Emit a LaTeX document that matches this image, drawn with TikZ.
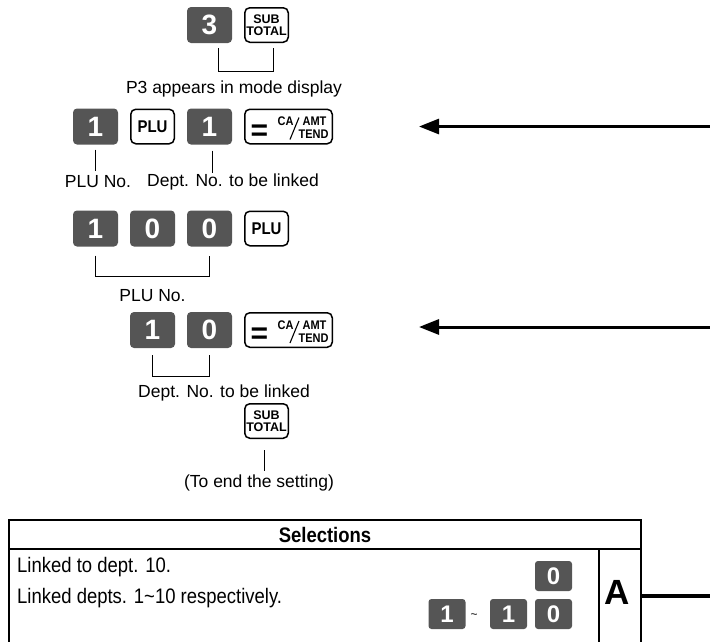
\documentclass[tikz,border=0pt]{standalone}
\usepackage{fontspec}
\setmainfont{Liberation Sans}
\newfontfamily\narrowfont[FakeStretch=0.88]{Liberation Sans}
\usetikzlibrary{arrows.meta}
\definecolor{keygray}{RGB}{85,85,85}

% key with "=" and CA/AMT over TEND
\newcommand{\amtkey}[3]{%
  \node[fnkey,minimum width=87.5pt] (#1) at (#2,#3) {};
  \node[keytext,font=\bfseries\fontsize{30}{30}\selectfont] (#1-eq) at ([xshift=-29pt,yshift=-6pt]#1.center) {=};
  \node[keytext] (#1-ca) at ([xshift=-3pt,yshift=5pt]#1.center) {CA};
  \node[keytext] (#1-amt) at ([xshift=26pt,yshift=5pt]#1.center) {AMT};
  \node[keytext] (#1-tend) at ([xshift=25pt,yshift=-8pt]#1.center) {TEND};
  \draw[line width=1.1pt] ([xshift=10.5pt,yshift=9pt]#1.center) -- ([xshift=1.5pt,yshift=-13pt]#1.center);
}

\begin{document}
\begin{tikzpicture}[x=1pt,y=-1pt,every node/.style={font=\fontsize{17.5}{20}\selectfont}]
    \tikzset{
      numkey/.style={rounded corners=4pt,fill=keygray,text=white,minimum width=45pt,minimum height=36pt,inner sep=0pt,font=\bfseries\fontsize{28}{28}\selectfont},
      fnkey/.style={draw,line width=1.5pt,rounded corners=5pt,minimum width=43.5pt,minimum height=34.5pt,inner sep=0pt,align=center,font=\bfseries\fontsize{12.5}{11.5}\selectfont},
      plukey/.style={fnkey,font=\narrowfont\bfseries\fontsize{17}{17}\selectfont},
      keytext/.style={inner sep=0pt,font=\narrowfont\bfseries\fontsize{12.5}{12.5}\selectfont},
      tabkey/.style={rounded corners=3pt,fill=keygray,text=white,minimum width=37pt,minimum height=30pt,inner sep=0pt,font=\bfseries\fontsize{24}{24}\selectfont},
      tabtext/.style={anchor=west,inner sep=0pt,font=\narrowfont\fontsize{21}{24}\selectfont},
      line/.style={line width=1pt},
      frame/.style={line width=2pt},
      arrow/.style={-{Triangle[length=20pt,width=15pt]},line width=3pt}
    }
    \useasboundingbox (0,0) rectangle (710,641);

    % mode
    \node[numkey] (three) at (209.5,25) {3};
    \node[fnkey] (subtotal1) at (266.5,25) {SUB\\TOTAL};
    \draw[line] ([xshift=8.5pt,yshift=-5pt]three.south) -- ++(0,23) -| ([xshift=6.5pt,yshift=-5pt]subtotal1.south);
    \node (modetxt) at (234,89) {P3 appears in mode display};

    % link PLU to dept
    \node[numkey] (one1) at (95.5,126.5) {1};
    \node[plukey] (plu1) at (152.5,126.5) {PLU};
    \node[numkey] (one2) at (209.5,126.5) {1};
    \amtkey{amt1}{288.5}{126.5}
    \draw[line] ([yshift=-5pt]one1.south) -- ++(0,21);
    \draw[line] ([xshift=2.5pt,yshift=-6pt]one2.south) -- ++(0,22);
    \node (pluno1) at (98,182) {PLU No.};
    \node (dept1) at (233,182) {Dept. No. to be linked};
    \coordinate (in1) at (710,126.5);
    \coordinate (tip1) at (419,126.5);
    \draw[arrow] (in1) -- (tip1);

    \node[numkey] (one3) at (95.5,228.5) {1};
    \node[numkey] (zero1) at (152.5,228.5) {0};
    \node[numkey] (zero2) at (209.5,228.5) {0};
    \node[plukey] (plu2) at (266.5,228.5) {PLU};
    \draw[line] ([yshift=-9pt]one3.south) -- ++(0,21) -| ([yshift=-9pt]zero2.south);
    \node (pluno2) at (152.5,296) {PLU No.};

    \node[numkey] (one4) at (152.5,330) {1};
    \node[numkey] (zero3) at (209.5,330) {0};
    \amtkey{amt2}{288.5}{330}
    \draw[line] ([yshift=-7pt]one4.south) -- ++(0,21) -| ([yshift=-7pt]zero3.south);
    \node (dept2) at (224,393) {Dept. No. to be linked};
    \coordinate (in2) at (710,327);
    \coordinate (tip2) at (419,327);
    \draw[arrow] (in2) -- (tip2);

    \node[fnkey] (subtotal2) at (266.5,421) {SUB\\TOTAL};
    \draw[line] ([xshift=-2.5pt,yshift=-11pt]subtotal2.south) -- ++(0,21);
    \node (endtxt) at (259,483) {(To end the setting)};

    % selections table
    \draw[frame] (9,645) -- (9,520) -- (641,520) -- (641,645);
    \draw[frame] (9,549) -- (641,549);
    \draw[frame] (599,549) -- (599,645);
    \node[font=\narrowfont\bfseries\fontsize{21}{24}\selectfont] (seltitle) at (325,535) {Selections};
    \node[tabtext] (opt1) at (17,567) {Linked to dept. 10.};
    \node[tabtext] (opt2) at (17,598) {Linked depts. 1\textasciitilde10 respectively.};
    \node[tabkey] (tzero1) at (553.5,576) {0};
    \node[tabkey] (tone1) at (447,614) {1};
    \node[inner sep=0pt,font=\fontsize{12}{12}\selectfont] (tilde) at (474,616) {\textasciitilde};
    \node[tabkey] (tone2) at (508.5,614) {1};
    \node[tabkey] (tzero2) at (553.5,614) {0};
    \node[font=\bfseries\fontsize{35}{35}\selectfont] (selA) at (617,592) {A};
    \coordinate (edgeA) at (641,596);
    \coordinate (outA) at (710,596);
    \draw[line width=3.5pt] (edgeA) -- (outA);
\end{tikzpicture}
\end{document}
